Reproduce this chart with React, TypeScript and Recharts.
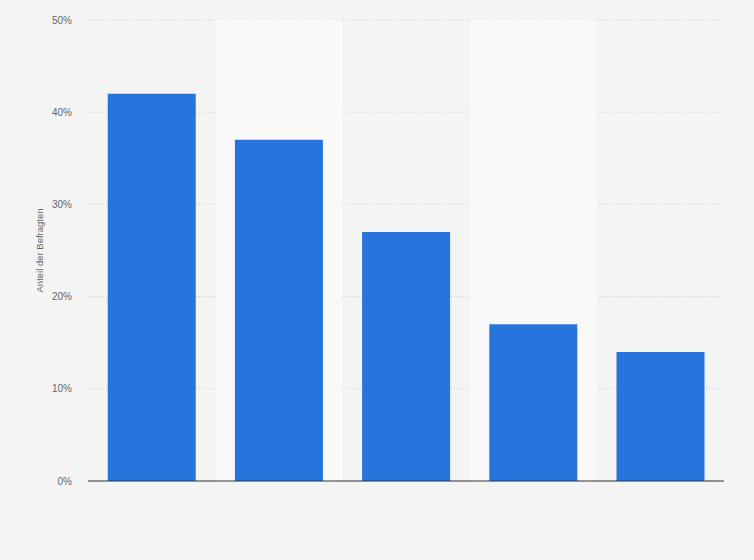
import React from 'react';
import {
  BarChart,
  Bar,
  XAxis,
  YAxis,
  CartesianGrid,
  ReferenceArea,
} from 'recharts';

// x-axis labels are not shown in the picture, so the categories are placeholders
const categories = ['Kategorie 1', 'Kategorie 2', 'Kategorie 3', 'Kategorie 4', 'Kategorie 5'];
const shares = [42, 37, 27, 17, 14];
const yTicks = [0, 10, 20, 30, 40, 50];
const shadedCategories = ['Kategorie 2', 'Kategorie 4'];

const data = categories.map((name, i) => ({ name, share: shares[i] }));

const App = () => {
  return (
    <div
      style={{
        position: 'absolute',
        top: 0,
        left: 0,
        width: 754,
        height: 560,
        background: '#f4f4f4',
        fontFamily: 'Arial, "Liberation Sans", sans-serif',
      }}
    >
      <BarChart
        width={754}
        height={560}
        data={data}
        margin={{ top: 20, right: 30, left: 0, bottom: 78 }}
        barCategoryGap="15.5%"
      >
        {shadedCategories.map((c) => (
          <ReferenceArea
            key={c}
            x1={c}
            x2={c}
            y1={0}
            y2={50}
            fill="#f9f9f9"
            fillOpacity={1}
            stroke="none"
            ifOverflow="hidden"
          />
        ))}

        <CartesianGrid
          vertical={false}
          stroke="#cccccc"
          strokeDasharray="1 2"
        />

        <Bar dataKey="share" fill="#2775dc" isAnimationActive={false} />

        <XAxis
          dataKey="name"
          tick={false}
          tickLine={false}
          height={1}
          axisLine={{ stroke: '#333333', strokeWidth: 1 }}
        />

        <YAxis
          width={88}
          domain={[0, 50]}
          ticks={yTicks}
          tickFormatter={(v) => `${v}%`}
          tick={{ fill: '#666666', fontSize: 10 }}
          tickLine={false}
          tickSize={0}
          tickMargin={16}
          axisLine={false}
          label={{
            value: 'Anteil der Befragten',
            angle: -90,
            position: 'center',
            dx: -4,
            style: { fill: '#666666', fontSize: 9.5 },
          }}
        />
      </BarChart>
    </div>
  );
};

export default App;
